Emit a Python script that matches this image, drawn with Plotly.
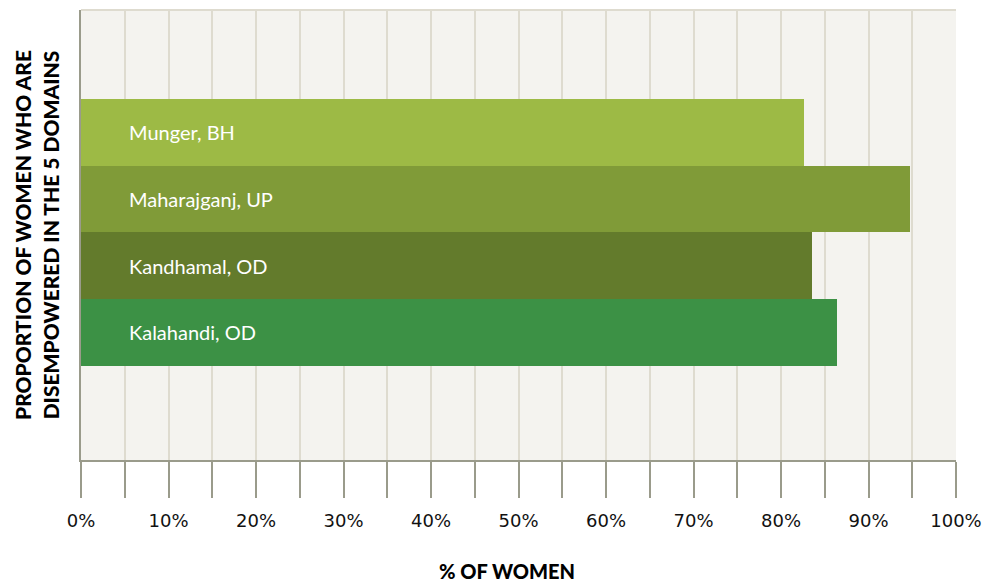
import plotly.graph_objects as go

# bottom to top
districts = ["Kalahandi, OD", "Kandhamal, OD", "Maharajganj, UP", "Munger, BH"]
pct_disempowered = [86.4, 83.5, 94.7, 82.6]
bar_colors = ["#3c9145", "#637b2c", "#809b38", "#9dba45"]
tick_vals = [0, 10, 20, 30, 40, 50, 60, 70, 80, 90, 100]
tick_text = [f"{v}%" for v in tick_vals]

FONT = "Source Sans Pro, Lato, Noto Sans, sans-serif"

fig = go.Figure()
fig.add_trace(go.Bar(
    y=districts,
    x=pct_disempowered,
    orientation="h",
    marker=dict(color=bar_colors, line_width=0),
    width=1,
    hoverinfo="x+y",
))

for name in districts:
    fig.add_annotation(
        x=0, y=name, xref="x", yref="y", text=name, showarrow=False,
        xanchor="left", xshift=46, font=dict(family=FONT, size=20, color="white"),
    )

# page body has an 8px margin, so the figure is a bit smaller than the window
fig.add_annotation(
    x=(507 - 81) / 875, y=-(571 - 460) / 450, xref="paper", yref="paper",
    text="% OF WOMEN", showarrow=False, yanchor="middle",
    font=dict(family=FONT, size=20, color="black", weight=900),
)

fig.update_layout(
    width=988, height=575,
    plot_bgcolor="#f4f3ef",
    paper_bgcolor="white",
    margin=dict(l=73, r=40, t=2, b=123),
    showlegend=False,
    bargap=0,
    font=dict(family=FONT, color="black"),
)

fig.update_xaxes(
    range=[0, 100],
    tickvals=tick_vals, ticktext=tick_text,
    ticks="outside", ticklen=36, tickcolor="#9a9b8b", tickwidth=1.5,
    ticklabelstandoff=8,
    tickfont=dict(family="DejaVu Sans", size=18, color="#111111"),
    showgrid=True, gridcolor="#dedbcf", gridwidth=2,
    minor=dict(dtick=5, tick0=0, ticks="outside", ticklen=36, tickcolor="#9a9b8b",
               tickwidth=1.5, showgrid=True, gridcolor="#dedbcf", gridwidth=2),
    showline=True, linecolor="#9a9b8b", linewidth=1.5,
    zeroline=False, fixedrange=True,
)
fig.update_yaxes(
    categoryorder="array", categoryarray=districts,
    range=[-1.91, 4.83],
    showticklabels=False, ticks="",
    showgrid=False, zeroline=False,
    showline=True, linecolor="#9a9b8b", linewidth=2,
    title=dict(text="PROPORTION OF WOMEN WHO ARE<br>DISEMPOWERED IN THE 5 DOMAINS",
               font=dict(family=FONT, size=21, color="black", weight=900), standoff=14),
)
# thin beige line along the top of the plot
fig.add_shape(type="line", xref="paper", yref="paper", x0=0, x1=1, y0=1, y1=1,
              line=dict(color="#dedbcf", width=2))

fig.write_html("out.html")
